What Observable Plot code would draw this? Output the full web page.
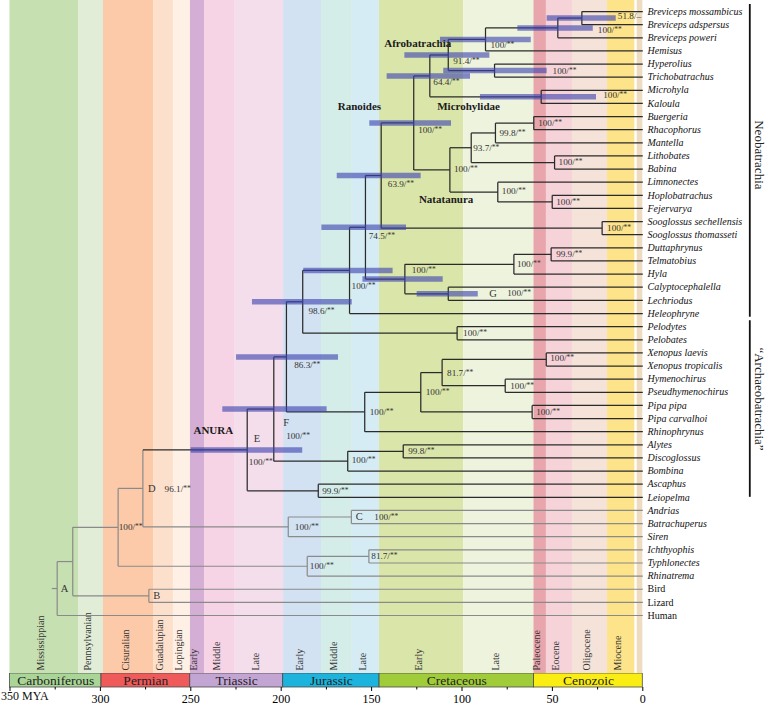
<!DOCTYPE html>
<html><head><meta charset="utf-8">
<script src="https://cdn.jsdelivr.net/npm/d3@7"></script>
<script src="https://cdn.jsdelivr.net/npm/@observablehq/plot@0.6"></script>
<style>
body{margin:0;background:#fff;}
#chart svg{display:block;}
</style></head><body><div id="chart"></div>
<script>
// ---------------- DATA ----------------
const tips = ["Breviceps mossambicus","Breviceps adspersus","Breviceps poweri","Hemisus","Hyperolius","Trichobatrachus","Microhyla","Kaloula","Buergeria","Rhacophorus","Mantella","Lithobates","Babina","Limnonectes","Hoplobatrachus","Fejervarya","Sooglossus sechellensis","Sooglossus thomasseti","Duttaphrynus","Telmatobius","Hyla","Calyptocephalella","Lechriodus","Heleophryne","Pelodytes","Pelobates","Xenopus laevis","Xenopus tropicalis","Hymenochirus","Pseudhymenochirus","Pipa pipa","Pipa carvalhoi","Rhinophrynus","Alytes","Discoglossus","Bombina","Ascaphus","Leiopelma","Andrias","Batrachuperus","Siren","Ichthyophis","Typhlonectes","Rhinatrema","Bird","Lizard","Human"];
const plainTips = ["Bird","Lizard","Human"];

// internal nodes: [id, age (MYA), child 1, child 2, support, node letter]
const nodes = [
 ["brev1",33.7,"Breviceps mossambicus","Breviceps adspersus","51.8/–",""],
 ["brev",47.0,"brev1","Breviceps poweri","100/**",""],
 ["brevhem",87.0,"brev","Hemisus","100/**",""],
 ["hyptri",82.0,"Hyperolius","Trichobatrachus","100/**",""],
 ["afro",107.6,"brevhem","hyptri","91.4/**",""],
 ["micro",56.2,"Microhyla","Kaloula","100/**",""],
 ["afromicro",117.8,"afro","micro","64.4/**",""],
 ["buerha",60.3,"Buergeria","Rhacophorus","100/**",""],
 ["rhaco",81.5,"buerha","Mantella","99.8/**",""],
 ["litbab",48.8,"Lithobates","Babina","100/**",""],
 ["ranid",94.9,"rhaco","litbab","93.7/**",""],
 ["hoplo",50.1,"Hoplobatrachus","Fejervarya","100/**",""],
 ["limn",80.2,"Limnonectes","hoplo","100/**",""],
 ["natat",106.7,"ranid","limn","100/**",""],
 ["ranoides",126.7,"afromicro","natat","100/**",""],
 ["soog",22.5,"Sooglossus sechellensis","Sooglossus thomasseti","100/**",""],
 ["rs",144.7,"ranoides","soog","63.9/**",""],
 ["dutt",50.7,"Duttaphrynus","Telmatobius","99.9/**",""],
 ["hyla",71.3,"dutt","Hyla","100/**",""],
 ["calech",107.6,"Calyptocephalella","Lechriodus","100/**","G"],
 ["hyloid",131.6,"hyla","calech","100/**",""],
 ["n745",153.4,"rs","hyloid","74.5/**",""],
 ["neo",162.2,"n745","Heleophryne","100/**",""],
 ["pelob",102.7,"Pelodytes","Pelobates","100/**",""],
 ["n986",188.1,"neo","pelob","98.6/**",""],
 ["xen",53.4,"Xenopus laevis","Xenopus tropicalis","100/**",""],
 ["hym",76.1,"Hymenochirus","Pseudhymenochirus","100/**",""],
 ["xenop",111.0,"xen","hym","81.7/**",""],
 ["pipa",61.2,"Pipa pipa","Pipa carvalhoi","100/**",""],
 ["pipid",122.8,"xenop","pipa","100/**",""],
 ["pipoid",153.8,"pipid","Rhinophrynus","100/**",""],
 ["n863",197.1,"n986","pipoid","86.3/**",""],
 ["alydis",132.5,"Alytes","Discoglossus","99.8/**",""],
 ["disc",163.2,"alydis","Bombina","100/**",""],
 ["nF",204.1,"n863","disc","100/**","F"],
 ["leio",179.5,"Ascaphus","Leiopelma","99.9/**",""],
 ["anura",218.8,"nF","leio","100/**","E"],
 ["andbat",161.2,"Andrias","Batrachuperus","100/**","C"],
 ["caud",196.1,"andbat","Siren","100/**",""],
 ["batr",276.5,"anura","caud","96.1/**","D"],
 ["ichtyp",151.5,"Ichthyophis","Typhlonectes","81.7/**",""],
 ["gym",185.6,"ichtyp","Rhinatrema","100/**",""],
 ["amph",290.2,"batr","gym","100/**",""],
 ["amni",273.2,"Bird","Lizard","","B"],
 ["tetra",315.3,"amph","amni","",""],
 ["root",323.9,"tetra","Human","","A"]
];
const rootStub = 3; // MY of root branch shown
const anuraNode = "anura";

// 95% HPD intervals of node ages: [node, older, younger]
const hpd = [["brev1",52.9,14.7],["brev",69.1,27.4],["brevhem",111.9,61.7],["hyptri",110.1,52.9],["afro",131.6,84.6],["micro",89.8,25.6],["afromicro",141.4,95.3],["ranoides",151.0,105.8],["rs",169.0,122.6],["n745",177.5,130.7],["neo",187.5,138.1],["hyloid",154.8,110.4],["calech",124.8,91.0],["n986",215.9,160.7],["n863",224.7,168.3],["nF",232.3,174.6],["anura",249.8,188.1]];

// clade names
const cladeNames = ["Afrobatrachia","Microhylidae","Ranoides","Natatanura","ANURA"];
const cladeNodes = ["afro","micro","ranoides","natat","anura"];

// brackets at the right
const bracketNames = ["Neobatrachia","“Archaeobatrachia”"];
const bracketFirst = ["Breviceps mossambicus","Pelodytes"];
const bracketLast = ["Heleophryne","Leiopelma"];

// geological time scale
const epochNames = ["Mississippian","Pennsylvanian","Cisuralian","Guadalupian","Lopingian","Early","Middle","Late","Early","Middle","Late","Early","Late","Paleocene","Eocene","Oligocene","Miocene",""];
const epochStart = [350,312.1,298.3,270.6,259.6,250.2,242.4,225.8,198.7,177.7,160.6,145.6,99.0,60.2,53.3,38.9,19.5,3.1];
const epochEnd   = [312.1,298.3,270.6,259.6,250.2,242.4,225.8,198.7,177.7,160.6,145.6,99.0,60.2,53.3,38.9,19.5,4.4,0];
const periodNames = ["Carboniferous","Permian","Triassic","Jurassic","Cretaceous","Cenozoic"];
const periodStart = [350,299.4,250.3,198.9,145.6,60.2];
const periodEnd   = [299.4,250.3,198.9,145.6,60.2,0];
const majorTicks = [350,300,250,200,150,100,50,0];
const minorTicks = [325,275,225,175,125,75,25];
const tickLabels = ["350 MYA","300","250","200","150","100","50","0"];

// ---------------- STYLE ----------------
const epochColors = ["#c6e0b1","#e1edd6","#fccaa9","#fde0cc","#fff0e5","#d4aed4","#f6d4e6","#f4deeb","#d3e2f3","#d5ede9","#d6ecf4","#dae5aa","#eef3de","#e8a6ac","#f6d3d9","#f5e3d9","#fde389","#eedcc0"];
const periodColors = ["#a9d596","#ef5b5b","#c3a5d3","#1cb3dc","#a0cc3a","#f9ed14"];
const FONT = "Liberation Serif";
const supportOffset = {brev1:[36,-2],brev:[40,2],brevhem:[5,5.5],hyptri:[58,0],afro:[5,6.5],micro:[62,-2],afromicro:[3.5,6.5],buerha:[4.4,0],rhaco:[4,0],litbab:[4,0],ranid:[2,0],natat:[4,-1],hoplo:[4,0],limn:[4,-1],ranoides:[4.4,7],soog:[5,0],rs:[6.6,9],dutt:[5,0],hyla:[3,0],calech:[59,-1],hyloid:[7,-9],n745:[3.3,9],neo:[2,16],pelob:[6,0],n986:[5.7,9],xen:[4,-1],hym:[5,0],xenop:[5,0],pipa:[4,0],pipid:[5,0],pipoid:[5,0],n863:[7.7,8],alydis:[5,0],disc:[4,-1],nF:[12.4,26.5],leio:[4,0.5],anura:[1.6,12.6],andbat:[23,0],caud:[6.6,0],batr:[21.7,0.4],ichtyp:[2.4,0],gym:[2.6,-0.7],amph:[0.6,0]};
const letterOffset = {A:[3.5,0],B:[4.5,0],C:[4.5,0],D:[5,0.4],E:[6.6,-11],F:[9.4,14],G:[41,-0.6]};
const cladePlace = {Afrobatrachia:["end",3,-11.8],Microhylidae:["start",-104,10],Ranoides:["end",-32.6,-16.3],Natatanura:["start",-31,30],ANURA:["end",-14,-19.4]};
const bracketPad = [[-0.53,0.28],[-0.45,0]];
const bracketLabelDy = [-6,-10];

// ---------------- LAYOUT ----------------
const rowOf = new Map(tips.map((t,i)=>[t,i+1]));
const ageOf = new Map(tips.map(t=>[t,0]));
const nodeMap = new Map(nodes.map(n=>[n[0],n]));
nodes.forEach(n=>ageOf.set(n[0],n[1]));
function yOf(id){ if(rowOf.has(id)) return rowOf.get(id); const n=nodeMap.get(id); const y=(yOf(n[2])+yOf(n[3]))/2; rowOf.set(id,y); return y; }
nodes.forEach(n=>yOf(n[0]));
const inAnura = new Set();
(function mark(id){ inAnura.add(id); const n=nodeMap.get(id); if(n){mark(n[2]);mark(n[3]);} })(anuraNode);

const segs = [];
for (const [id,age,a,b] of nodes) {
  segs.push({x1:age,x2:age,y1:rowOf.get(a),y2:rowOf.get(b),dark:inAnura.has(id)});
  for (const c of [a,b]) segs.push({x1:age,x2:ageOf.get(c),y1:rowOf.get(c),y2:rowOf.get(c),dark:inAnura.has(c)});
}
const rootNode = nodes[nodes.length-1];
segs.push({x1:rootNode[1]+rootStub,x2:rootNode[1],y1:rowOf.get(rootNode[0]),y2:rowOf.get(rootNode[0]),dark:false});

const epochs = epochNames.map((n,i)=>({name:n,start:epochStart[i],end:epochEnd[i],color:epochColors[i]}));
const periods = periodNames.map((n,i)=>({name:n,start:periodStart[i],end:periodEnd[i],color:periodColors[i]}));
const hpdData = hpd.map(([id,a,b])=>({y:rowOf.get(id),x1:a,x2:b}));

const supportMarks = nodes.filter(n=>n[4]).map(n=>{
  const [dx,dy] = supportOffset[n[0]] || [4,0];
  return Plot.text([n],{x:d=>d[1],y:d=>rowOf.get(d[0]),text:d=>d[4],dx,dy,textAnchor:"start",fontSize:9.2,fill:"#333"});
});
const letterMarks = nodes.filter(n=>n[5]).map(n=>{
  const [dx,dy] = letterOffset[n[5]];
  return Plot.text([n],{x:d=>d[1],y:d=>rowOf.get(d[0]),text:d=>d[5],dx,dy,textAnchor:"start",fontSize:10.5,fill:"#333"});
});
const cladeMarks = cladeNames.map((name,i)=>{
  const [anchor,dx,dy] = cladePlace[name];
  const id = cladeNodes[i];
  return Plot.text([name],{x:()=>ageOf.get(id),y:()=>rowOf.get(id),text:d=>d,dx,dy,textAnchor:anchor,fontSize:11,fontWeight:"bold",fill:"#1a1a1a"});
});
const brackets = bracketNames.map((n,i)=>({name:n,y1:rowOf.get(bracketFirst[i])+bracketPad[i][0],y2:rowOf.get(bracketLast[i])+bracketPad[i][1]}));
const bracketLabelMarks = brackets.map((b,i)=>Plot.text([b],{x:0,y:d=>(d.y1+d.y2)/2,text:"name",rotate:90,dx:116,dy:bracketLabelDy[i],fontSize:13,fill:"#222"}));

const xScale = {domain:[350,0],range:[9.5,642.3]};

const tree = Plot.plot({
  width:766,height:673,margin:0,
  x:{...xScale,axis:null},
  y:{domain:[1,47],range:[11,615],axis:null},
  color:{type:"identity"},
  style:{fontFamily:FONT,fontSize:"10px",background:"transparent"},
  marks:[
    Plot.rect(epochs,{x1:"start",x2:"end",fill:"color"}),
    Plot.text(epochs.filter(d=>d.name),{x:d=>(d.start+d.end)/2,text:"name",rotate:-90,textAnchor:"start",frameAnchor:"bottom",dy:-3,fontSize:10,fill:"#333"}),
    Plot.link(segs.filter(d=>!d.dark),{x1:"x1",x2:"x2",y1:"y1",y2:"y2",stroke:"#8a8a8a",strokeWidth:1.2}),
    Plot.link(segs.filter(d=>d.dark),{x1:"x1",x2:"x2",y1:"y1",y2:"y2",stroke:"#2b2b2b",strokeWidth:1.25}),
    Plot.ruleY(hpdData,{y:"y",x1:"x1",x2:"x2",stroke:"#3d43b0",strokeOpacity:0.62,strokeWidth:5.5}),
    ...supportMarks,
    ...letterMarks,
    ...cladeMarks,
    Plot.text(tips.filter(t=>!plainTips.includes(t)),{x:0,y:d=>rowOf.get(d),text:d=>d,dx:4.7,textAnchor:"start",fontStyle:"italic",fontSize:10,fill:"#111"}),
    Plot.text(tips.filter(t=>plainTips.includes(t)),{x:0,y:d=>rowOf.get(d),text:d=>d,dx:4.7,textAnchor:"start",fontSize:10,fill:"#111"}),
    Plot.ruleX(brackets,{x:0,y1:"y1",y2:"y2",dx:107,stroke:"#111",strokeWidth:1.8}),
    ...bracketLabelMarks
  ]
});

const scale = Plot.plot({
  width:766,height:33,marginTop:0,marginLeft:0,marginRight:0,marginBottom:19,
  x:{...xScale,axis:null},
  color:{type:"identity"},
  style:{fontFamily:FONT,fontSize:"10px",background:"transparent"},
  marks:[
    Plot.rect(periods,{x1:"start",x2:"end",fill:"color",stroke:"#4a4a4a",strokeWidth:0.8}),
    Plot.text(periods,{x:d=>(d.start+d.end)/2,text:"name",fontSize:13.5,fill:"#222"}),
    Plot.axisX({ticks:majorTicks,tickSize:4,tickPadding:3,fontSize:12,tickFormat:(d)=>{const i=majorTicks.indexOf(d);return i===0?"":tickLabels[i];}}),
    Plot.axisX({ticks:minorTicks,tickSize:2.5,tickFormat:()=>""}),
    Plot.text([tickLabels[0]],{x:majorTicks[0],text:d=>d,frameAnchor:"bottom",dy:12.5,dx:-9,textAnchor:"start",fontSize:12,fill:"#111"})
  ]
});

const root = document.getElementById("chart");
root.appendChild(tree);
root.appendChild(scale);

// small superscript-like asterisks in support values
d3.select(tree).selectAll("text").each(function(){
  const el = this;
  const target = el.querySelector("tspan") || el;
  const s = target.textContent;
  if (/\/\*\*$/.test(s)) {
    target.textContent = s.slice(0,-2);
    d3.select(target).append("tspan").attr("font-size","7.5").attr("dy","-1").text("**");
  }
});
</script></body></html>
